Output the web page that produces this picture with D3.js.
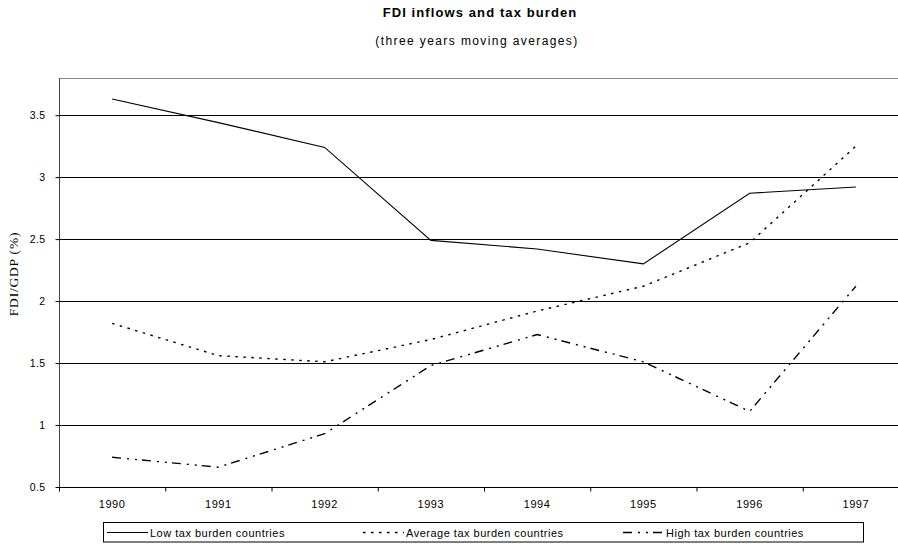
<!DOCTYPE html>
<html>
<head>
<meta charset="utf-8">
<script src="https://cdn.jsdelivr.net/npm/d3@7"></script>
<style>
  body { margin: 0; background: #fff; }
  svg { display: block; font-family: "Liberation Sans", Arial, sans-serif; }
  .tick text { fill: #000; }
</style>
</head>
<body>
<div class="container"></div>
<script>
const WIDTH = 898;
const HEIGHT = 544;
const LEFT = 59;
const RIGHT = 909;   // plot runs past the right edge, as in the picture
const TOP = 78;
const BOTTOM = 487;

var years = ["1990","1991","1992","1993","1994","1995","1996","1997"];
var lowTax = [3.63, 3.44, 3.24, 2.49, 2.42, 2.30, 2.87, 2.92];
var avgTax = [1.82, 1.56, 1.51, 1.69, 1.92, 2.12, 2.47, 3.25];
var highTax = [0.74, 0.66, 0.93, 1.48, 1.73, 1.51, 1.11, 2.12];
var seriesNames = ["Low tax burden countries", "Average tax burden countries", "High tax burden countries"];
var yTicks = [0.5, 1, 1.5, 2, 2.5, 3, 3.5];
var yTickLabels = ["0.5", "1", "1.5", "2", "2.5", "3", "3.5"];

var dashes = [null, "2.5,5.5", "9,6,2,6,2,5"];

var load = function(){
	var svg = d3.select(".container").append("svg")
		.attr("width", WIDTH)
		.attr("height", HEIGHT);

	var xScale = d3.scaleBand().domain(years).range([LEFT, RIGHT]);
	var xEdge = d3.scaleLinear().domain([0, years.length]).range([LEFT, RIGHT]);
	var yScale = d3.scaleLinear().domain([0.5, 3.8]).range([BOTTOM, TOP]);

	// titles
	svg.append("text")
		.attr("x", 480).attr("y", 17)
		.attr("text-anchor", "middle")
		.style("font-size", "13px").style("font-weight", "bold")
		.style("letter-spacing", "1.1px")
		.text("FDI inflows and tax burden");
	svg.append("text")
		.attr("x", 477).attr("y", 45)
		.attr("text-anchor", "middle")
		.style("font-size", "12px")
		.style("letter-spacing", "1.4px")
		.text("(three years moving averages)");

	// top border of plot area
	svg.append("line")
		.attr("x1", LEFT).attr("x2", WIDTH)
		.attr("y1", TOP + 0.5).attr("y2", TOP + 0.5)
		.attr("stroke", "#888");

	// gridlines
	svg.append("g").selectAll("line").data(yTicks.slice(1))
		.enter().append("line")
		.attr("x1", LEFT).attr("x2", WIDTH)
		.attr("y1", function(d){ return Math.round(yScale(d)) + 0.5; })
		.attr("y2", function(d){ return Math.round(yScale(d)) + 0.5; })
		.attr("stroke", "#000");

	// y axis
	var yAxis = d3.axisLeft(yScale).tickValues(yTicks).tickSize(4).tickPadding(10)
		.tickFormat(function(d, i){ return yTickLabels[i]; });
	var yAxisGroup = svg.append("g")
		.attr("transform", "translate(" + (LEFT + 0.5) + ",0)")
		.call(yAxis);
	yAxisGroup.select(".domain").attr("stroke", "#444").attr("d", "M0," + TOP + "V" + BOTTOM);
	yAxisGroup.selectAll("text").style("font-size", "10.5px").style("letter-spacing", "0.4px");

	// x axis: tick marks between categories, labels at centres
	var xTickAxis = d3.axisBottom(xEdge).ticks(years.length).tickSize(4).tickFormat("");
	var xTickGroup = svg.append("g")
		.attr("transform", "translate(0," + (BOTTOM + 0.5) + ")")
		.call(xTickAxis);
	xTickGroup.select(".domain").attr("stroke", "#000").attr("d", "M" + LEFT + ",0H" + RIGHT);

	var xAxis = d3.axisBottom(xScale).tickSize(0).tickPadding(13);
	var xAxisGroup = svg.append("g")
		.attr("transform", "translate(0," + BOTTOM + ")")
		.call(xAxis);
	xAxisGroup.select(".domain").remove();
	xAxisGroup.selectAll("text").style("font-size", "11px").style("letter-spacing", "0.6px");

	// y label
	svg.append("text")
		.attr("transform", "translate(18,274) rotate(-90)")
		.attr("text-anchor", "middle")
		.style("font-family", "'Liberation Serif', 'Times New Roman', serif")
		.style("font-size", "13.5px")
		.style("letter-spacing", "0.8px")
		.text("FDI/GDP (%)");

	// lines
	var line = d3.line()
		.x(function(d, i){ return xScale(years[i]) + xScale.bandwidth() / 2; })
		.y(function(d){ return yScale(d); });

	var allSeries = [lowTax, avgTax, highTax];
	var lines = svg.append("g");
	allSeries.forEach(function(s, k){
		lines.append("path")
			.attr("d", line(s))
			.attr("fill", "none")
			.attr("stroke", "#000")
			.attr("stroke-width", k === 0 ? 1.1 : 1.4)
			.attr("stroke-dasharray", dashes[k]);
	});

	// legend
	var legend = svg.append("g");
	legend.append("rect")
		.attr("x", 103.5).attr("y", 522.5)
		.attr("width", 760).attr("height", 19.5)
		.attr("fill", "#fff").attr("stroke", "#000");
	var legendX = [107, 363, 623];
	seriesNames.forEach(function(name, k){
		legend.append("line")
			.attr("x1", legendX[k]).attr("x2", legendX[k] + 41)
			.attr("y1", 532.5).attr("y2", 532.5)
			.attr("stroke", "#000")
			.attr("stroke-width", k === 0 ? 1.1 : 1.4)
			.attr("stroke-dasharray", dashes[k]);
		legend.append("text")
			.attr("x", legendX[k] + 43).attr("y", 536.5)
			.style("font-size", "11px")
			.style("letter-spacing", "0.5px")
			.text(name);
	});
};

window.onload = load;
</script>
</body>
</html>
